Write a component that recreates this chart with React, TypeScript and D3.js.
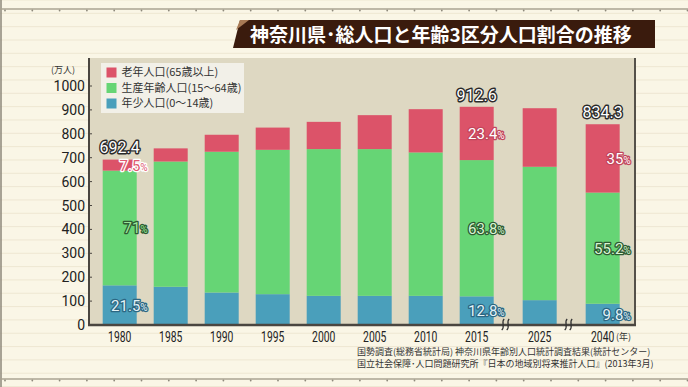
import React, { useEffect } from 'react';
import * as d3 from 'd3';

// 神奈川県 年齢3区分人口 (万人)
const years = ['1980', '1985', '1990', '1995', '2000', '2005', '2010', '2015', '2025', '2040'];
const young = [166, 160, 136, 129, 122, 122, 122, 120, 104, 89];
const working = [480, 524, 589, 604, 614, 614, 600, 570, 558, 465];
const elderly = [46, 55, 71, 93, 114, 142, 181, 223, 245, 286];

const yTicks = [0, 100, 200, 300, 400, 500, 600, 700, 800, 900, 1000];

// labelled bars
const labelYears = ['1980', '2015', '2040'];
const totalText = ['692.4', '912.6', '834.3'];
const elderlyPct = ['7.5', '23.4', '35'];
const workingPct = ['71', '63.8', '55.2'];
const youngPct = ['21.5', '12.8', '9.8'];

// axis breaks come before these years
const breakBefore = ['2025', '2040'];

const legendItems = [
  { name: '老年人口(65歳以上)', color: '#dc5369' },
  { name: '生産年齢人口(15～64歳)', color: '#66d575' },
  { name: '年少人口(0～14歳)', color: '#4a9fbb' },
];

const COLORS = { young: '#4a9fbb', working: '#66d575', elderly: '#dc5369' };
const JP = '"Noto Sans CJK JP", sans-serif';
const NUM = 'Roboto, sans-serif';

const W = 688;
const H = 387;
const plot = { left: 89, right: 635, top: 58, bottom: 325 };
const barW = 34;
const breakExtra = 0.235;

const App = () => {
  useEffect(() => {
    document.body.style.margin = '0';
  }, []);

  // slot index, with a little extra room at each axis break
  const slot = (yr: string) => {
    const i = years.indexOf(yr);
    const nBreaks = breakBefore.filter((b) => years.indexOf(b) <= i).length;
    return i + nBreaks * breakExtra;
  };
  const lastSlot = slot(years[years.length - 1]);
  const x = d3.scaleLinear().domain([0, lastSlot]).range([119.7, 119.7 + 51 * lastSlot]);
  const y = d3.scaleLinear().domain([0, 1000]).range([plot.bottom, 86]);

  const rows = years.map((yr, i) => ({
    year: yr,
    young: young[i],
    working: working[i],
    elderly: elderly[i],
  }));
  const stack = d3.stack<any>().keys(['young', 'working', 'elderly'])(rows);

  const bgLines = d3.range(0, H, 13.33);
  const rulerDots = d3.range(5, W, 27.3);

  const outlined = (stroke: string, sw = 2.6) => ({
    stroke,
    strokeWidth: sw,
    strokeLinejoin: 'round' as const,
    paintOrder: 'stroke',
  });

  const pctLabel = (
    key: string,
    yr: string,
    val: string,
    layer: number,
    fill: string,
    stroke: string
  ) => {
    const seg = stack[layer][years.indexOf(yr)];
    const cy = (y(seg[0]) + y(seg[1])) / 2;
    return (
      <text
        key={key}
        x={x(slot(yr)) + barW / 2 + 11}
        y={cy}
        dy="0.36em"
        textAnchor="end"
        fontFamily={NUM}
        fontSize={15}
        fill={fill}
        {...outlined(stroke)}
      >
        {val}
        <tspan fontSize={10}>%</tspan>
      </text>
    );
  };

  return (
    <svg width={W} height={H} style={{ display: 'block' }}>
      {/* paper background */}
      <rect width={W} height={H} fill="#faf6e6" />
      {bgLines.map((ly) => (
        <line key={ly} x1={0} x2={W} y1={ly} y2={ly} stroke="#eee7d2" strokeWidth={1} />
      ))}
      <line x1={1} x2={1} y1={0} y2={H} stroke="#8c877a" strokeWidth={1.5} />
      {[9, 379].map((ry) => (
        <g key={ry}>
          <line x1={0} x2={W} y1={ry} y2={ry} stroke="#aaa392" strokeWidth={1.5} />
          {rulerDots.map((dx) => (
            <circle key={dx} cx={dx} cy={ry + 1.5} r={0.9} fill="#8f8a7c" />
          ))}
        </g>
      ))}

      {/* title */}
      <path d="M240,20 L655,20 L655,48 L233,48 Z" fill="#3a1b0d" />
      <path d="M240,20 L249,20 L236,30 Z" fill="#a87a55" />
      <text x={250} y={42} fill="#ffffff" fontFamily={JP} fontWeight={700} fontSize={19}>
        神奈川県･総人口と年齢3区分人口割合の推移
      </text>

      {/* plot area */}
      <rect
        x={plot.left}
        y={plot.top}
        width={plot.right - plot.left}
        height={plot.bottom - plot.top}
        fill="#ded8c2"
      />

      {/* bars */}
      {stack.map((layer) => (
        <g key={layer.key} fill={(COLORS as any)[layer.key]}>
          {layer.map((d: any) => (
            <rect
              key={d.data.year}
              x={x(slot(d.data.year)) - barW / 2}
              y={y(d[1])}
              width={barW}
              height={y(d[0]) - y(d[1])}
            />
          ))}
        </g>
      ))}

      {/* axes */}
      <line x1={plot.left} x2={plot.left} y1={plot.top} y2={plot.bottom} stroke="#4a4640" strokeWidth={2} />
      <line x1={plot.right} x2={plot.right} y1={plot.top} y2={plot.bottom} stroke="#55514a" strokeWidth={2} />
      <line x1={plot.left - 1} x2={plot.right + 1} y1={plot.bottom} y2={plot.bottom} stroke="#4a4640" strokeWidth={2.5} />
      {yTicks.map((t) => (
        <g key={t}>
          <line x1={plot.left} x2={plot.left + 3} y1={y(t)} y2={y(t)} stroke="#4a4640" strokeWidth={1} />
          <text
            x={85}
            y={y(t)}
            dy="0.36em"
            textAnchor="end"
            fontFamily={NUM}
            fontSize={14}
            fill="#222"
          >
            {t}
          </text>
        </g>
      ))}
      <text x={75} y={73} textAnchor="end" fontFamily={JP} fontSize={9} fill="#333">
        (万人)
      </text>
      {years.map((yr) => (
        <text
          key={yr}
          transform={`translate(${x(slot(yr))},337) scale(0.74,1)`}
          dy="0.36em"
          textAnchor="middle"
          fontFamily={NUM}
          fontSize={14}
          fill="#222"
        >
          {yr}
        </text>
      ))}
      <text x={616} y={337} dy="0.36em" fontFamily={JP} fontSize={9} fill="#333">
        (年)
      </text>

      {/* axis break marks */}
      {breakBefore.map((b) => {
        const i = years.indexOf(b);
        const mx = (x(slot(years[i - 1])) + x(slot(b))) / 2 - 3;
        return (
          <g key={b} fill="none" stroke="#333" strokeWidth={1.3}>
            {[-2.5, 2.5].map((o) => (
              <path
                key={o}
                d={`M${mx + o + 1.5},${plot.bottom - 6} C${mx + o - 2},${plot.bottom - 3} ${mx + o + 3},${plot.bottom + 2} ${mx + o - 1},${plot.bottom + 5}`}
              />
            ))}
          </g>
        );
      })}

      {/* legend */}
      <rect x={101} y={63} width={143} height={50} fill="#f2f0e8" />
      {legendItems.map((it, i) => (
        <g key={it.name} transform={`translate(106.5,${72.5 + i * 15.5})`}>
          <rect x={0} y={-5} width={10} height={10} fill={it.color} />
          <text x={15} y={0} dy="0.36em" fontFamily={JP} fontSize={11} fill="#333">
            {it.name}
          </text>
        </g>
      ))}

      {/* total labels */}
      {labelYears.map((yr, k) => {
        const i = years.indexOf(yr);
        const total = young[i] + working[i] + elderly[i];
        return (
          <text
            key={yr}
            x={x(slot(yr))}
            y={y(total) - 12}
            dy="0.36em"
            textAnchor="middle"
            fontFamily={NUM}
            fontSize={16}
            fill="#ffffff"
            {...outlined('#2a2a2a', 2.8)}
          >
            {totalText[k]}
          </text>
        );
      })}

      {/* share labels */}
      {labelYears.map((yr, k) =>
        pctLabel('e' + yr, yr, elderlyPct[k], 2, k === 0 ? '#e05870' : '#ffffff', k === 0 ? '#ffffff' : '#c2465c')
      )}
      {labelYears.map((yr, k) =>
        pctLabel('w' + yr, yr, workingPct[k], 1, k === 0 ? '#9be597' : '#d9f5d2', '#2f5a32')
      )}
      {labelYears.map((yr, k) => pctLabel('y' + yr, yr, youngPct[k], 0, '#e2f2f7', '#2c6783'))}

      {/* sources */}
      <text x={357} y={355} fontFamily={JP} fontSize={9} fill="#333">
        国勢調査(総務省統計局) 神奈川県年齢別人口統計調査結果(統計センター)
      </text>
      <text x={357} y={367} fontFamily={JP} fontSize={9} fill="#333">
        国立社会保障･人口問題研究所『日本の地域別将来推計人口』(2013年3月)
      </text>
    </svg>
  );
};

export default App;
